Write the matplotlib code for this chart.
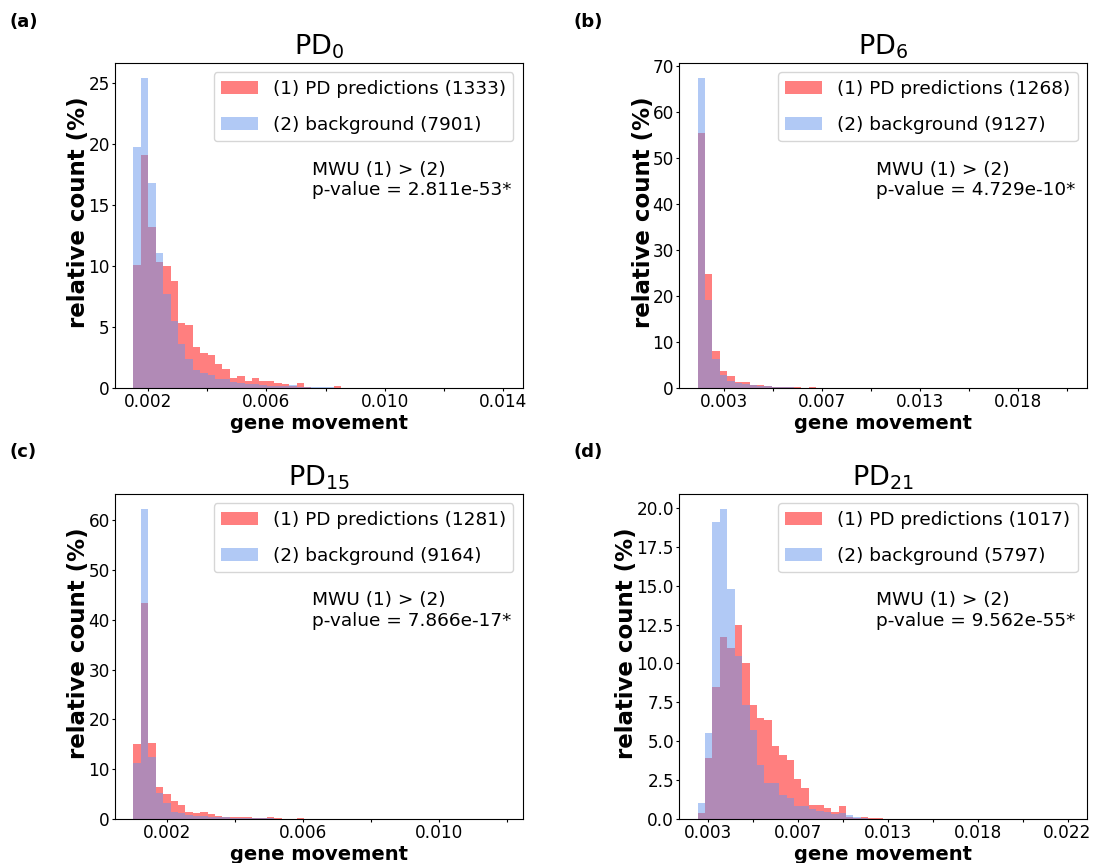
import numpy as np
import matplotlib
matplotlib.use('Agg')
import matplotlib.pyplot as plt

# bin ranges (50 bins each) and relative counts (%) per bin
titles = ['PD$_{0}$', 'PD$_{6}$', 'PD$_{15}$', 'PD$_{21}$']
panel_tags = ['(a)', '(b)', '(c)', '(d)']
pred_n = [1333, 1268, 1281, 1017]
back_n = [7901, 9127, 9164, 5797]
pvalues = ['2.811e-53', '4.729e-10', '7.866e-17', '9.562e-55']
bin_ranges = [(0.00151, 0.01402), (0.00113, 0.02008), (0.00101, 0.0119), (0.00195, 0.02254)]

pred_a = [10.1, 19.1, 13.2, 10.3, 10.0, 8.8, 5.3, 5.15, 3.4, 2.9, 2.7, 2.0, 1.56, 0.82,
          1.0, 0.6, 0.82, 0.6, 0.55, 0.45, 0.35, 0.15, 0.45, 0.12, 0.0, 0.0, 0.0, 0.15]
back_a = [19.8, 25.4, 16.8, 11.1, 7.7, 5.5, 3.6, 2.4, 1.5, 1.2, 1.1, 0.77, 0.7, 0.5,
          0.4, 0.35, 0.33, 0.25, 0.2, 0.2, 0.15, 0.25, 0.1, 0.1, 0.08, 0.05, 0.05, 0.04,
          0.03, 0.03, 0.02, 0.02]

pred_b = [55.3, 24.8, 8.1, 3.8, 2.7, 1.2, 1.2, 0.7, 0.7, 0.5, 0.15, 0.15, 0.25, 0.15,
          0.1, 0.2, 0.05, 0.03]
back_b = [67.2, 19.2, 6.2, 2.9, 1.45, 1.1, 0.9, 0.6, 0.5, 0.35, 0.3, 0.2, 0.15, 0.1,
          0.1, 0.08, 0.05, 0.05, 0.03, 0.03]

pred_c = [15.1, 43.4, 15.3, 6.4, 5.1, 3.7, 2.8, 1.5, 1.2, 1.4, 1.0, 0.7, 0.4, 0.35,
          0.4, 0.4, 0.2, 0.15, 0.3, 0.1, 0.05, 0.05, 0.2, 0.05, 0.05, 0.0, 0.0, 0.0,
          0.0, 0.0, 0.0, 0.0, 0.0, 0.0, 0.0, 0.08]
back_c = [11.3, 62.2, 12.4, 5.2, 3.2, 1.5, 1.3, 0.9, 0.7, 0.5, 0.45, 0.35, 0.3, 0.25,
          0.2, 0.15, 0.15, 0.1, 0.1, 0.08, 0.05, 0.05, 0.04, 0.03, 0.03]

pred_d = [0.37, 3.92, 8.5, 11.7, 11.0, 12.5, 10.0, 7.3, 6.47, 6.36, 4.68, 4.1, 3.8,
          2.6, 1.98, 0.9, 0.9, 0.69, 0.43, 0.82, 0.1, 0.06, 0.15, 0.06, 0.05]
back_d = [1.03, 5.56, 19.1, 19.9, 14.8, 10.45, 7.33, 5.75, 3.45, 2.33, 2.33, 1.57,
          1.36, 0.86, 0.86, 0.65, 0.5, 0.43, 0.32, 0.37, 0.28, 0.1, 0.05, 0.03]

# x tick spacing; every other tick gets a label
tick_steps = [0.002, 0.0025, 0.002, 0.0025]

preds = [pred_a, pred_b, pred_c, pred_d]
backs = [back_a, back_b, back_c, back_d]

fig, axes = plt.subplots(2, 2, figsize=(11, 8.63), dpi=100)
plt.subplots_adjust(left=0.1045, right=0.988, bottom=0.051, top=0.927,
                    wspace=0.384, hspace=0.326)

for i, ax in enumerate(axes.flat):
    lo, hi = bin_ranges[i]
    edges = np.linspace(lo, hi, 51)
    centers = (edges[:-1] + edges[1:]) / 2

    p = preds[i]
    b = backs[i]
    ax.hist(centers[:len(p)], bins=edges, weights=p, color='red', alpha=0.5,
            label='(1) PD predictions (%d)' % pred_n[i])
    ax.hist(centers[:len(b)], bins=edges, weights=b, color='cornflowerblue', alpha=0.5,
            label='(2) background (%d)' % back_n[i])

    ax.set_title(titles[i], fontsize=19.5)
    ax.set_xlabel('gene movement', fontsize=14, fontweight='bold', labelpad=2)
    ax.set_ylabel('relative count (%)', fontsize=16.5, fontweight='bold',
                  labelpad=-1.5, y=0.54)

    # ticks every step, label only every other tick
    step = tick_steps[i]
    ticks = np.round(np.arange(step, hi + 0.0008, step), 5)
    labels = ['%.3f' % t if k % 2 == 0 else '' for k, t in enumerate(ticks)]
    ax.set_xticks(ticks)
    ax.set_xticklabels(labels)
    ax.tick_params(labelsize=12.2, length=2.5, pad=1.2)

    ax.legend(loc='upper right', fontsize=13.3, labelspacing=1.0)
    ax.text(0.483, 0.70, 'MWU (1) > (2)\np-value = %s*' % pvalues[i],
            transform=ax.transAxes, fontsize=13.3, va='top')

fig.text(0.009, 0.975, panel_tags[0], fontsize=13, fontweight='bold', va='center')
fig.text(0.521, 0.975, panel_tags[1], fontsize=13, fontweight='bold', va='center')
fig.text(0.009, 0.476, panel_tags[2], fontsize=13, fontweight='bold', va='center')
fig.text(0.521, 0.476, panel_tags[3], fontsize=13, fontweight='bold', va='center')

plt.savefig('out.png', dpi=100)
